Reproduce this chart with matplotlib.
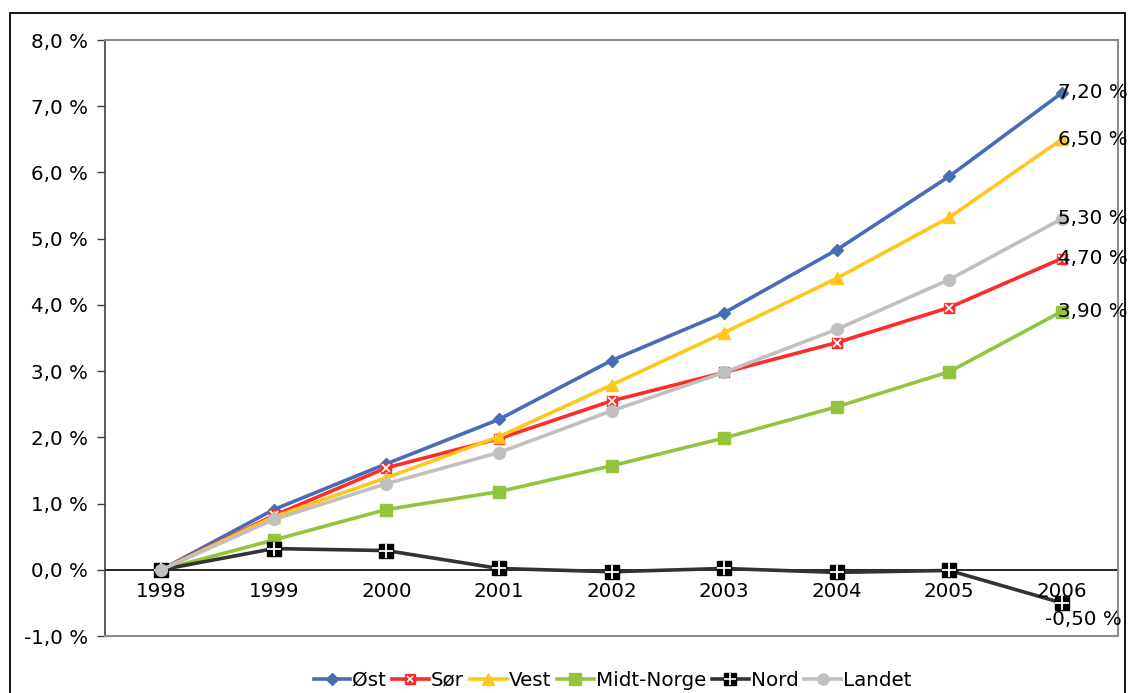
import matplotlib
matplotlib.use("Agg")
import matplotlib.pyplot as plt
from matplotlib.patches import Rectangle
from matplotlib.legend_handler import HandlerTuple
from matplotlib.lines import Line2D

plt.rcParams['font.family'] = ['DejaVu Sans']

years = ["1998", "1999", "2000", "2001", "2002", "2003", "2004", "2005", "2006"]
ost = [0.0, 0.91, 1.60, 2.27, 3.16, 3.88, 4.83, 5.94, 7.20]
sor = [0.0, 0.82, 1.54, 1.98, 2.55, 2.98, 3.43, 3.96, 4.70]
vest = [0.0, 0.80, 1.39, 2.01, 2.79, 3.58, 4.40, 5.32, 6.50]
midt = [0.0, 0.45, 0.91, 1.18, 1.57, 1.99, 2.46, 2.99, 3.90]
nord = [0.0, 0.32, 0.29, 0.02, -0.03, 0.02, -0.04, -0.01, -0.50]
landet = [0.0, 0.76, 1.30, 1.77, 2.40, 2.98, 3.63, 4.38, 5.30]
y_ticks = [-1, 0, 1, 2, 3, 4, 5, 6, 7, 8]

W, H = 1130, 693
fig = plt.figure(figsize=(W / 100, H / 100), dpi=100)
ax = fig.add_axes([105 / W, 1 - 636 / H, (1118 - 105) / W, (636 - 40) / H])

x = list(range(len(years)))
lw = 2.6
fs = 14.3

ax.plot(x, ost, color="#4A6BB5", lw=lw, marker="D", ms=6.5, mfc="#4A6BB5", mec="#4A6BB5", zorder=3)
ax.plot(x, sor, color="#FF2A2A", lw=lw, marker="s", ms=7.5, mfc="#FF2A2A", mec="#FF2A2A", zorder=3)
ax.plot(x, sor, ls="none", marker="x", ms=5.5, mec="white", mew=1.3, zorder=3.1)
ax.plot(x, vest, color="#FFC61E", lw=lw, marker="^", ms=9, mfc="#FFC61E", mec="#FFC61E", zorder=3.2)
ax.plot(x, midt, color="#92C43F", lw=lw, marker="s", ms=8.5, mfc="#92C43F", mec="#92C43F", zorder=3.3)
ax.plot(x, nord, color="#333333", lw=lw, marker="s", ms=9.5, mfc="black", mec="black", zorder=3.4)
ax.plot(x, nord, ls="none", marker="+", ms=9.5, mec="white", mew=1.3, zorder=3.5)
ax.plot(x, landet, color="#C0C0C0", lw=lw, marker="o", ms=8.5, mfc="#C0C0C0", mec="#C0C0C0", zorder=3.6)

ax.set_xlim(-0.5, len(years) - 0.5)
ax.set_ylim(-1, 8)
ax.set_yticks(y_ticks)
ax.set_yticklabels([f"{v:.1f} %".replace(".", ",") for v in y_ticks], fontsize=fs)
ax.tick_params(axis="y", direction="out", length=6, width=1, color="#404040", pad=6)
ax.set_xticks([])

# category axis crossing at zero
ax.axhline(0, color="black", lw=1.2, zorder=2)
for i, yr in enumerate(years):
    ax.text(i, -0.19, yr, ha="center", va="top", fontsize=fs, zorder=5)

for side in ["top", "right", "bottom"]:
    ax.spines[side].set_color("#8C8C8C")
    ax.spines[side].set_linewidth(1.5)
ax.spines["left"].set_color("#404040")
ax.spines["left"].set_linewidth(1.2)

# end-of-series value labels
last = len(years) - 1
for series in [ost, vest, landet, sor, midt]:
    v = series[-1]
    ax.text(last - 0.03, v, f"{v:.2f} %".replace(".", ","), ha="left", va="center",
            fontsize=fs, zorder=6)
v = nord[-1]
ax.text(last - 0.15, v - 0.1, f"{v:.2f} %".replace(".", ","), ha="left", va="top",
        fontsize=fs, zorder=6)

# legend
def h(color, marker, ms, mfc=None, **kw):
    return Line2D([], [], color=color, lw=lw, marker=marker, ms=ms,
                  mfc=mfc or color, mec=mfc or color, **kw)

handles = [
    h("#4A6BB5", "D", 6),
    (h("#FF2A2A", "s", 7), Line2D([], [], ls="none", marker="x", ms=5, mec="white", mew=1.2)),
    h("#FFC61E", "^", 8.5),
    h("#92C43F", "s", 8),
    (h("#333333", "s", 9, mfc="black"), Line2D([], [], ls="none", marker="+", ms=9, mec="white", mew=1.2)),
    h("#C0C0C0", "o", 8),
]
labels = ["Øst", "Sør", "Vest", "Midt-Norge", "Nord", "Landet"]
fig.legend(handles, labels, loc="center", bbox_to_anchor=(0.542, 1 - 680 / H), ncol=6,
           frameon=False, fontsize=fs, handlelength=1.85, handletextpad=0.1,
           columnspacing=0.3, handler_map={tuple: HandlerTuple(ndivide=1, pad=0)})

# chart frame
fig.patches.append(Rectangle((9.5 / W, -0.05), (1125 - 9.5) / W, 1.05 - 13 / H,
                             transform=fig.transFigure, fill=False, ec="black", lw=1.3))

fig.savefig("out.png", dpi=100)
